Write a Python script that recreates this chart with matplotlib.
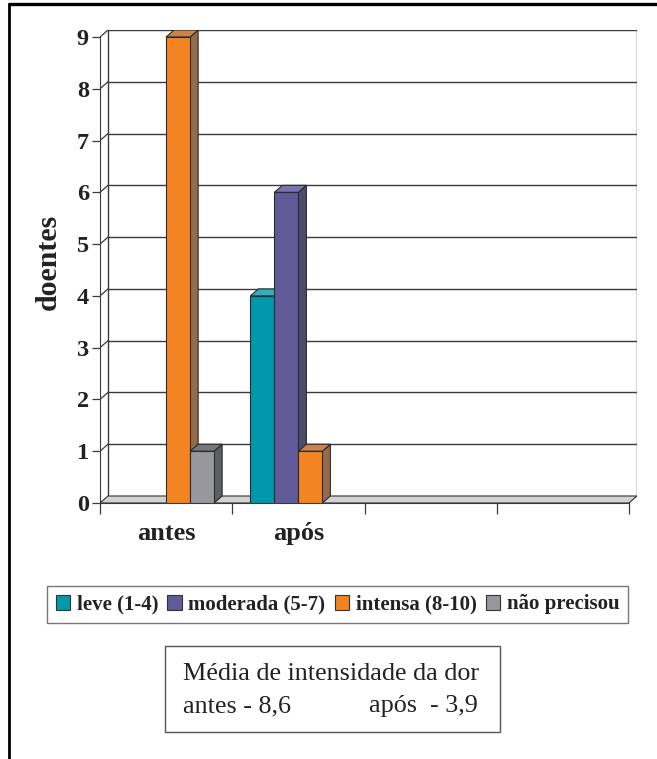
import matplotlib
matplotlib.use("Agg")
import matplotlib.pyplot as plt
from matplotlib.patches import Polygon, Rectangle, Patch

# ---- data -------------------------------------------------------------
categories = ["antes", "após", "", ""]
series_names = ["leve (1-4)", "moderada (5-7)", "intensa (8-10)", "não precisou"]
leve = [0, 4]
moderada = [0, 6]
intensa = [9, 1]
nao_precisou = [1, 0]
y_ticks = list(range(10))
summary_title = "Média de intensidade da dor"
summary_antes = "antes - 8,6"
summary_apos = "após  - 3,9"

series_values = [leve, moderada, intensa, nao_precisou]

# face colours: front, side, top
front_colors = ["#0099AC", "#605A98", "#F28522", "#97989B"]
side_colors = ["#006B78", "#4E4C6C", "#946B4B", "#5E5F62"]
top_colors = ["#33AEBD", "#7A74AE", "#C8844A", "#76777A"]

SERIF = ["Liberation Serif", "DejaVu Serif"]
INK = "#222222"

W, H = 657, 759
fig = plt.figure(figsize=(W / 100, H / 100), dpi=100)

# ---- 3-D style bar plot ---------------------------------------------------
x0_px, x1_px, y0_px, y9_px = 100, 629, 503, 37
depth_px_x, depth_px_y = 8, 7
ux = (x1_px - x0_px) / 4.0          # pixels per category
uy = (y0_px - y9_px) / 9.0          # pixels per unit
ddx = depth_px_x / ux
ddy = depth_px_y / uy
top_px = y9_px - depth_px_y
right_px = x1_px + depth_px_x

ax = fig.add_axes([x0_px / W, 1 - y0_px / H, (right_px - x0_px) / W, (y0_px - top_px) / H])
ax.set_xlim(0, 4 + ddx)
ax.set_ylim(0, 9 + ddy)
ax.set_facecolor("none")

grid_c = "#3a3a3a"
ncat = len(categories)
# back wall grid lines and edges, side wall diagonals
for v in y_ticks:
    if v > 0:
        ax.plot([ddx, ncat + ddx], [v + ddy, v + ddy], color=grid_c, lw=1.0, zorder=1,
                solid_capstyle="butt")
        ax.plot([0, ddx], [v, v + ddy], color=grid_c, lw=0.9, zorder=1)
ax.plot([ddx, ddx], [ddy, 9 + ddy], color=grid_c, lw=1.0, zorder=1)
ax.plot([ncat + ddx, ncat + ddx], [ddy, 9 + ddy], color=grid_c, lw=1.0, zorder=1)

# floor
ax.add_patch(Polygon([(0, 0), (ncat, 0), (ncat + ddx, ddy), (ddx, ddy)], closed=True,
                     facecolor="#D2D2D2", edgecolor="#333333", lw=0.8, zorder=2))

# bars
bw = 24.0 / ux
nser = len(series_values)
for i in range(2):
    for j in range(nser):
        h = series_values[j][i]
        if h <= 0:
            continue
        xl = i + 0.5 - nser / 2 * bw + j * bw
        xr = xl + bw
        ax.add_patch(Polygon([(xr, 0), (xr + ddx, ddy), (xr + ddx, h + ddy), (xr, h)],
                             closed=True, facecolor=side_colors[j], edgecolor="#2a2a2a",
                             lw=0.8, zorder=3 + j))
        ax.add_patch(Polygon([(xl, h), (xr, h), (xr + ddx, h + ddy), (xl + ddx, h + ddy)],
                             closed=True, facecolor=top_colors[j], edgecolor="#2a2a2a",
                             lw=0.8, zorder=3 + j))
        ax.add_patch(Rectangle((xl, 0), bw, h, facecolor=front_colors[j],
                               edgecolor="#2a2a2a", lw=0.8, zorder=3 + j))

# axes: front vertical axis and floor front edge
for s in ["top", "right"]:
    ax.spines[s].set_visible(False)
ax.spines["left"].set_bounds(0, 9)
ax.spines["bottom"].set_bounds(0, ncat)
ax.spines["left"].set_color(grid_c)
ax.spines["bottom"].set_color(grid_c)
ax.spines["left"].set_zorder(10)

ax.set_yticks(y_ticks)
ax.set_yticklabels([str(t) for t in y_ticks], fontfamily=SERIF, fontweight="bold",
                   fontsize=17.5, color=INK)
ax.tick_params(axis="y", length=6, width=0.9, color=grid_c, pad=2)

ax.set_xticks(range(ncat + 1))
ax.set_xticklabels([""] * (ncat + 1))
ax.tick_params(axis="x", which="major", length=8, width=0.9, color=grid_c)
ax.set_xticks([k + 0.5 for k in range(ncat)], minor=True)
ax.set_xticklabels(categories, minor=True, fontfamily=SERIF, fontweight="bold",
                   fontsize=19, color=INK)
ax.tick_params(axis="x", which="minor", length=0, pad=14)

ax.set_ylabel("doentes", fontfamily=SERIF, fontweight="bold", fontsize=21.5, color=INK)
ax.yaxis.set_label_coords(-(100 - 62) / (right_px - x0_px), (y0_px - 262) / (y0_px - top_px))

# ---- overlay: frame, legend, summary box ------------------------------------
ov = fig.add_axes([0, 0, 1, 1], zorder=-1)
ov.set_xlim(0, W)
ov.set_ylim(H, 0)
ov.axis("off")
ov.plot([8, W], [4, 4], color="black", lw=2.4, solid_capstyle="butt")
ov.plot([8.5, 8.5], [3, H], color="black", lw=2.0, solid_capstyle="butt")

handles = [Patch(facecolor=front_colors[j], edgecolor="#333333", lw=0.8) for j in range(nser)]
leg = fig.legend(handles, series_names, ncol=4, loc="center",
                 bbox_to_anchor=((47 + 628) / 2 / W, 1 - 604.5 / H),
                 prop={"family": SERIF, "weight": "bold", "size": 15},
                 frameon=True, fancybox=False, edgecolor="#555555",
                 handlelength=0.7, handleheight=0.7, handletextpad=0.3,
                 columnspacing=0.45, borderpad=0.4, borderaxespad=0)
leg.get_frame().set_linewidth(1.0)
for t in leg.get_texts():
    t.set_color(INK)

ov2 = fig.add_axes([0, 0, 1, 1])
ov2.set_xlim(0, W)
ov2.set_ylim(H, 0)
ov2.axis("off")
ov2.add_patch(Rectangle((165, 646), 335, 86, facecolor="white", edgecolor="#555555", lw=1.0))
txt_kw = dict(fontfamily=SERIF, fontsize=18.8, color=INK, va="baseline", ha="left")
ov2.text(183, 680, summary_title, **txt_kw)
ov2.text(183, 712, summary_antes, **txt_kw)
ov2.text(369, 712, summary_apos, **txt_kw)

fig.savefig("out.png", dpi=100)
